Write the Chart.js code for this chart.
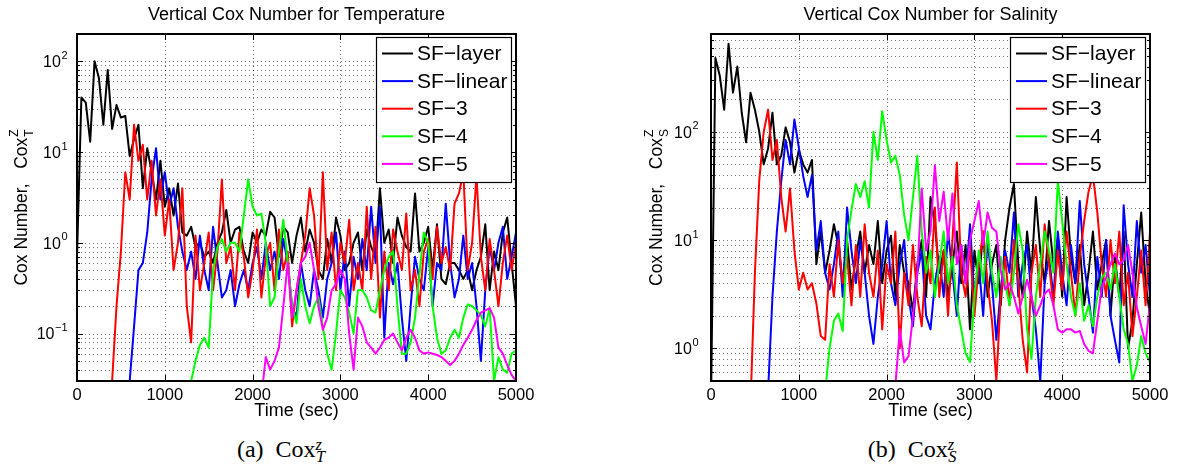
<!DOCTYPE html>
<html><head><meta charset="utf-8">
<script src="https://cdn.jsdelivr.net/npm/chart.js@4.4.0/dist/chart.umd.min.js"></script>
<style>
html,body{margin:0;padding:0;background:#fff;overflow:hidden;width:1181px;height:473px;position:relative}
canvas{position:absolute;top:0}
#cT{left:0}
#cS{left:593px}
.cap{position:absolute;top:436px;font-family:"Liberation Serif","DejaVu Serif",serif;font-size:24px;line-height:26px;white-space:nowrap;transform:translateX(-50%);color:#000}
.cap .sp{position:relative;top:-0.45em;font-size:0.68em;font-style:italic}
.cap .sb{position:relative;top:0.3em;font-size:0.68em;font-style:italic;margin-left:-0.36em}
</style></head><body>
<canvas id="cT" width="593" height="430"></canvas>
<canvas id="cS" width="588" height="430"></canvas>
<div class="cap" style="left:281px">(a)&nbsp; Cox<span class="sp">z</span><span class="sb">T</span></div>
<div class="cap" style="left:912px">(b)&nbsp; Cox<span class="sp">z</span><span class="sb">S</span></div>
<script>
// ---------------- data ----------------
const times = [0,50,100,150,200,250,300,350,400,450,
 500,550,600,650,700,750,800,850,900,950,
 1000,1050,1100,1150,1200,1250,1300,1350,1400,1450,
 1500,1550,1600,1650,1700,1750,1800,1850,1900,1950,
 2000,2050,2100,2150,2200,2250,2300,2350,2400,2450,
 2500,2550,2600,2650,2700,2750,2800,2850,2900,2950,
 3000,3050,3100,3150,3200,3250,3300,3350,3400,3450,
 3500,3550,3600,3650,3700,3750,3800,3850,3900,3950,
 4000,4050,4100,4150,4200,4250,4300,4350,4400,4450,
 4500,4550,4600,4650,4700,4750,4800,4850,4900,4950,
 5000];

const seriesNames = ['SF\u2212layer','SF\u2212linear','SF\u22123','SF\u22124','SF\u22125'];
const seriesColors = ['#000000','#0000ff','#ff0000','#00ff00','#ff00ff'];

const xTicks = [0,1000,2000,3000,4000,5000];
const yTicksT = [0.1,1,10,100];
const yTickExpT = ['\u22121','0','1','2'];
const yTicksS = [1,10,100];
const yTickExpS = ['0','1','2'];

// Temperature panel
const blackT = [0.7,40,35,13,100,65,20,80,18,33,
 24,25,9,14,20,4,11,6,3,8,
 2.5,4,2,4.5,1.3,1.2,1.5,0.9,1.0,0.7,
 0.8,0.6,1.0,1.3,2.3,1.0,1.4,1.5,0.8,0.6,
 1.3,1.0,1.4,1.2,2.2,1.9,0.7,1.5,1.3,0.6,
 1.2,1.9,0.8,1.4,1.0,0.5,0.4,1.1,0.6,1.9,
 1.2,0.5,0.6,1.0,1.3,0.5,1.4,0.9,0.7,4.0,
 1.0,1.4,0.6,1.9,1.2,0.9,0.8,3.5,0.8,1.0,
 1.5,0.5,1.6,0.4,0.35,0.6,0.6,0.5,0.4,0.5,
 0.3,0.5,0.7,1.6,0.3,0.8,0.5,1.3,1.9,0.6,
 0.2];
const blueT = [null,null,null,null,null,null,null,null,null,null,
 null,null,0.03,0.12,0.5,0.6,1.3,5,11,3,
 6,2.5,4,1.5,0.8,0.5,0.8,0.4,1.2,0.5,
 0.3,1.5,0.6,0.25,0.3,0.5,0.2,0.35,0.5,0.3,
 0.6,0.9,0.4,1.0,0.5,0.8,0.4,1.1,0.6,0.2,
 0.15,0.6,0.3,0.2,0.5,0.3,0.15,0.4,0.6,1.3,
 0.3,0.8,0.2,0.7,0.4,1.1,0.5,2.5,0.6,2.5,
 0.09,0.6,0.35,0.6,0.15,0.05,0.2,0.7,0.4,0.3,
 0.9,0.2,0.6,0.5,2.7,0.6,0.25,0.4,1.2,0.4,
 0.6,0.2,0.05,0.3,0.9,0.5,1.0,1.5,0.4,0.7,
 1.3];
const redT = [null,null,null,null,null,null,null,null,0.03,0.2,
 0.8,6,3,20,8,12,3,8,2,5,
 1.2,3,0.5,1.0,4,0.2,0.08,1.2,0.3,0.6,
 1.3,0.3,0.8,5,0.6,0.9,0.3,1.3,0.7,0.25,
 0.5,1.4,0.25,0.7,1.0,0.3,1.4,0.5,0.8,0.12,
 0.3,0.6,1.2,4,2.0,0.4,6.0,0.5,1.3,0.3,
 1.0,0.6,1.8,0.3,0.6,0.3,2.5,0.4,1.5,0.15,
 0.8,0.3,1.4,0.8,0.5,2.1,0.3,0.5,0.2,0.8,
 1.1,0.4,1.5,0.6,0.9,0.5,2.7,3.5,6.0,0.5,
 1.0,5.5,0.7,0.3,1.1,0.5,0.2,0.6,1.2,0.5,
 1.0];
const greenT = [null,null,null,null,null,null,null,null,null,null,
 null,null,null,null,null,null,null,null,null,null,
 null,null,null,null,null,null,0.03,0.05,0.075,0.09,
 0.07,0.5,0.9,1.1,0.8,1.0,1.0,0.8,2.0,5.0,
 2.5,2.0,2.1,1.0,0.2,0.25,0.8,1.8,0.6,0.2,
 0.13,0.4,0.2,0.13,0.2,0.25,0.12,0.06,0.04,0.1,
 0.3,0.25,0.17,0.1,0.3,0.3,0.25,0.18,0.17,0.3,
 0.5,0.7,0.8,0.2,0.06,0.06,0.08,0.15,0.45,1.3,
 1.0,0.2,0.09,0.06,0.065,0.09,0.11,0.09,0.15,0.21,
 0.2,0.18,0.16,0.12,0.19,0.03,0.055,0.04,0.037,0.06,
 0.065];
const magentaT = [null,null,null,null,null,null,null,null,null,null,
 null,null,null,null,null,null,null,null,null,null,
 null,null,null,null,null,null,null,null,null,null,
 null,null,null,null,null,null,null,null,null,null,
 null,null,0.02,0.055,0.04,0.05,0.07,0.2,0.6,0.15,
 0.3,0.6,0.7,1.0,0.5,0.2,0.11,0.15,0.3,0.35,
 0.5,0.4,0.1,0.04,0.15,0.12,0.08,0.07,0.06,0.07,
 0.085,0.09,0.1,0.08,0.065,0.09,0.11,0.09,0.065,0.06,
 0.062,0.06,0.058,0.055,0.05,0.045,0.05,0.06,0.075,0.09,
 0.11,0.14,0.17,0.18,0.19,0.15,0.07,0.06,0.045,0.035,
 0.03];

// Salinity panel
const blackS = [0.3,480,330,160,650,230,400,150,80,230,
 160,100,50,70,150,50,60,110,80,42,
 68,50,42,55,6,12,5,8,14,9,
 4,10,3.5,7,12,5,9,6,15,4,
 8,11,3,9,5,4,2.2,6,10,3,
 25,14,5,8,3,6,12,4,9,1.5,
 8,4,12,3,6,9,2.5,10,20,33,
 6,3,12,5,25,8,4,15,6,10,
 3,25,7,4,9,2.5,5,12,3.5,6,
 10,2,7,3,12,1.0,1.8,6,18,4,
 2];
const blueS = [null,null,null,null,null,null,null,null,null,null,
 null,null,null,0.4,3,12,35,84,50,130,
 72,39,25,40,8,15,5,3.5,6,12,
 3,20,8,4,10,5,2,1.1,3,6,
 15,4,2.5,6,10,3,1.6,5,8,2,
 1.5,4,7,3,12,5,2,9,4,14,
 3,6,2,10,4,1.2,3.5,8,5,18,
 3,6,9,3,1.5,0.5,4,7,3,12,
 5,2.5,9,4,23,6,3,1.4,7,3,
 10,2,1.2,0.74,21,6,3,15,5,9,
 3];
const redS = [null,null,null,null,null,null,null,null,null,0.3,
 5,36,99,160,55,84,25,12,30,8,
 3.5,5,3.5,4,2.6,1.3,1.2,6,3,10,
 4,7,2.5,9,3,14,5,3,8,1.5,
 6,4,12,1.0,5,2.5,9,3,1.6,7,
 4,20,3,8,2,10,52,5,3,9,
 2,6,12,4,1.8,0.5,3,7,2.5,10,
 4,1.2,0.6,5,9,3,14,6,2.5,8,
 3.5,12,5,2,7,15,28,40,18,6,
 3,10,4,12,2.5,5,1.3,3,8,2.5,
 12];
const greenS = [null,null,null,null,null,null,null,null,null,null,
 null,null,null,null,null,null,null,null,null,null,
 null,null,null,null,null,null,0.4,1.0,1.8,2.1,
 1.45,10,19,33,25,35,20,100,55,155,
 84,52,60,40,17,10,25,60,12,5,
 8,3,6,12,4,7,2.5,1.5,0.9,0.75,
 3,8,4,12,5,3,7,4,2.5,5,
 14,8,1.5,0.8,3,6,12,8,5,35,
 15,6,3,2,4,1.8,2.5,1.6,3,4.5,
 5,3.5,6,3,1.5,1.1,0.5,0.7,1.3,0.9,
 0.75];
const magentaS = [null,null,null,null,null,null,null,null,null,null,
 null,null,null,null,null,null,null,null,null,null,
 null,null,null,null,null,null,null,null,null,null,
 null,null,null,null,null,null,null,null,null,null,
 null,null,0.45,1.5,0.74,0.85,2,5,30,8,
 12,49,15,28,10,27,6,9,4,10,
 15,23,9,18,13,12,5.2,3.5,4,3,
 2.1,3,4.3,3,2,2.5,3.2,3.5,2.5,1.5,
 1.4,1.5,1.5,1.4,1.45,1.1,0.95,0.9,1.8,3.7,
 4.5,6,7.5,6,6.5,9,5,2.4,1.6,1.1,
 2.6];

// ---------------- drawing ----------------
const FONT = '"Liberation Sans", Arial, Helvetica, sans-serif';

function minorVals(min, max) {
  const out = [];
  for (let e = Math.floor(Math.log10(min)); e <= Math.ceil(Math.log10(max)); e++) {
    for (let m = 1; m <= 9; m++) {
      const v = m * Math.pow(10, e);
      if (v > min * 1.0001 && v < max * 0.9999) out.push({v, major: m === 1});
    }
  }
  return out;
}

const matlabPlugin = {
  id: 'matlab',
  beforeDatasetsDraw(chart, args, o) {
    const {ctx, chartArea: {left, right, top, bottom}, scales: {x, y}} = chart;
    ctx.save();
    ctx.strokeStyle = 'rgba(0,0,0,0.55)';
    ctx.lineWidth = 1;
    ctx.setLineDash([1, 3]);
    ctx.beginPath();
    for (const v of xTicks) {
      if (v <= x.min || v >= x.max) continue;
      const px = Math.round(x.getPixelForValue(v)) + 0.5;
      ctx.moveTo(px, top); ctx.lineTo(px, bottom);
    }
    for (const g of minorVals(y.min, y.max)) {
      const py = Math.round(y.getPixelForValue(g.v)) + 0.5;
      ctx.moveTo(left, py); ctx.lineTo(right, py);
    }
    ctx.stroke();
    ctx.restore();
  },
  afterDatasetsDraw(chart, args, o) {
    const {ctx, chartArea: {left, right, top, bottom}, scales: {x, y}} = chart;
    ctx.save();
    ctx.setLineDash([]);
    ctx.strokeStyle = '#000';
    ctx.lineWidth = 1;
    ctx.beginPath();
    for (const v of xTicks) {
      if (v <= x.min || v >= x.max) continue;
      const px = Math.round(x.getPixelForValue(v)) + 0.5;
      ctx.moveTo(px, bottom); ctx.lineTo(px, bottom - 6);
      ctx.moveTo(px, top); ctx.lineTo(px, top + 6);
    }
    for (const g of minorVals(y.min, y.max)) {
      const py = Math.round(y.getPixelForValue(g.v)) + 0.5;
      const L = g.major ? 6 : 3;
      ctx.moveTo(left, py); ctx.lineTo(left + L, py);
      ctx.moveTo(right, py); ctx.lineTo(right - L, py);
    }
    ctx.stroke();
    ctx.lineWidth = 2;
    ctx.strokeRect(left, top, right - left, bottom - top);

    ctx.fillStyle = '#000';
    ctx.textAlign = 'left';
    ctx.textBaseline = 'alphabetic';
    o.yTicks.forEach((v, k) => {
      const py = y.getPixelForValue(v);
      ctx.font = '16px ' + FONT;
      const w1 = ctx.measureText('10').width;
      ctx.font = '11px ' + FONT;
      const w2 = ctx.measureText(o.yExps[k]).width;
      const x0 = left - o.yGap - w1 - w2;
      ctx.font = '16px ' + FONT;
      ctx.fillText('10', x0, py + 5.7);
      ctx.font = '11px ' + FONT;
      ctx.fillText(o.yExps[k], x0 + w1 + 0.5, py - 2.5);
    });

    ctx.save();
    ctx.translate(o.yTitleX, (top + bottom) / 2);
    ctx.rotate(-Math.PI / 2);
    ctx.font = '17.5px ' + FONT;
    const wMain = ctx.measureText(o.yTitleMain).width;
    ctx.font = '12px ' + FONT;
    const wS = Math.max(ctx.measureText(o.yTitleSup).width, ctx.measureText(o.yTitleSub).width);
    const sx = -(wMain + wS + 1) / 2;
    ctx.font = '17.5px ' + FONT;
    ctx.fillText(o.yTitleMain, sx, 7);
    ctx.font = '12px ' + FONT;
    ctx.fillText(o.yTitleSup, sx + wMain + 1, -2);
    ctx.fillText(o.yTitleSub, sx + wMain + 1, 13);
    ctx.restore();

    const bw = 135, bh = 145;
    const bx = right - 5 - bw, by = top + 3;
    ctx.fillStyle = '#fff';
    ctx.fillRect(bx, by, bw, bh);
    ctx.strokeStyle = '#000';
    ctx.lineWidth = 1.2;
    ctx.strokeRect(bx + 0.5, by + 0.5, bw, bh);
    ctx.font = '21px ' + FONT;
    ctx.textBaseline = 'middle';
    chart.data.datasets.forEach((ds, i) => {
      const ry = by + 16.5 + 27.6 * i;
      ctx.strokeStyle = ds.borderColor;
      ctx.lineWidth = 2;
      ctx.beginPath();
      ctx.moveTo(bx + 6, ry); ctx.lineTo(bx + 37, ry);
      ctx.stroke();
      ctx.fillStyle = '#000';
      ctx.fillText(ds.label, bx + 41, ry + 1);
    });
    ctx.restore();
  }
};

function makeChart(id, cfg) {
  const datasets = seriesNames.map((name, k) => ({
    label: name,
    data: times.map((t, i) => ({x: t, y: cfg.values[k][i]})),
    borderColor: seriesColors[k],
    backgroundColor: seriesColors[k],
    borderWidth: 2,
    pointRadius: 0,
    tension: 0,
    fill: false,
    spanGaps: false,
    borderJoinStyle: 'round',
    order: 5 - k
  }));
  return new Chart(document.getElementById(id), {
    type: 'line',
    data: {datasets},
    options: {
      responsive: false,
      animation: false,
      events: [],
      layout: {padding: {left: 0, right: cfg.padRight, top: 0, bottom: 0}},
      plugins: {
        legend: {display: false},
        tooltip: {enabled: false},
        title: {
          display: true, text: cfg.title, fullSize: false, color: '#000',
          font: {family: FONT, size: 18, weight: 'normal', lineHeight: 1.2},
          padding: {top: 4, bottom: 8.4}
        },
        matlab: {
          yTicks: cfg.yTicks, yExps: cfg.yExps, yGap: cfg.yGap,
          yTitleX: cfg.yTitleX, yTitleMain: 'Cox Number,   Cox', yTitleSup: 'Z', yTitleSub: cfg.sub
        }
      },
      scales: {
        x: {
          type: 'linear', position: 'bottom', min: 0, max: 5000,
          afterBuildTicks: s => { s.ticks = xTicks.map(v => ({value: v})); },
          afterFit: s => { s.height = 49; },
          ticks: {color: '#000', font: {family: FONT, size: 16.5}, padding: 5, maxRotation: 0, autoSkip: false, callback: v => String(v)},
          grid: {display: false, drawTicks: false},
          border: {display: false},
          title: {display: true, text: 'Time (sec)', color: '#000', font: {family: FONT, size: 18}, padding: {top: 0, bottom: 8}}
        },
        y: {
          type: 'logarithmic', position: 'left', min: cfg.yMin, max: cfg.yMax,
          afterFit: s => { s.width = cfg.yAxisWidth; },
          ticks: {display: false},
          grid: {display: false, drawTicks: false},
          border: {display: false}
        }
      }
    },
    plugins: [matlabPlugin]
  });
}

makeChart('cT', {
  title: 'Vertical Cox Number for Temperature',
  values: [blackT, blueT, redT, greenT, magentaT],
  yMin: 0.03, yMax: 200, yTicks: yTicksT, yExps: yTickExpT,
  yAxisWidth: 77, padRight: 77, yGap: 10, yTitleX: 20, sub: 'T'
});
makeChart('cS', {
  title: 'Vertical Cox Number for Salinity',
  values: [blackS, blueS, redS, greenS, magentaS],
  yMin: 0.5, yMax: 800, yTicks: yTicksS, yExps: yTickExpS,
  yAxisWidth: 118, padRight: 31, yGap: 13, yTitleX: 62, sub: 'S'
});
</script>
</body></html>
